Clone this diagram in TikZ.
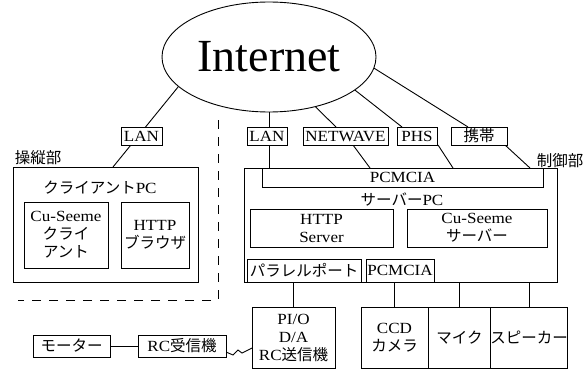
\documentclass[tikz,border=0pt]{standalone}
\usepackage{fontspec}
\setmainfont[FakeStretch=1.1]{Liberation Serif}
\newfontfamily\inetfont{Liberation Serif}
\newfontfamily\jp{Noto Sans CJK JP}
\usetikzlibrary{calc,backgrounds,shapes.geometric}
\begin{document}
\begin{tikzpicture}[x=1pt,y=-1pt,
  every node/.style={font=\fontsize{15.5}{18}\selectfont},
  box/.style={draw, fill=white, inner sep=0pt, outer sep=0pt, line width=0.9pt, align=center},
  wire/.style={line width=0.9pt}]
\useasboundingbox (0,0) rectangle (588,369);
% Internet
\node[draw, ellipse, fill=white, line width=0.9pt, minimum width=214pt, minimum height=110pt,
      inner sep=0pt, outer sep=0pt, font=\inetfont\fontsize{46}{50}\selectfont] (inet) at (269,57) {Internet};
% client side
\node[box, minimum width=41pt, minimum height=18pt] (lanL) at (141.5,136) {LAN};
\node[box, minimum width=185pt, minimum height=115pt] (client) at (105.5,224.5) {};
\node (clientlbl) at (100,188) {{\jp クライアント}PC};
\node[box, minimum width=84pt, minimum height=66pt] (cuc) at (66,235) {Cu-Seeme\\{\jp クライ}\\{\jp アント}};
\node[box, minimum width=68pt, minimum height=66pt] (httpb) at (155,235) {HTTP\\{\jp ブラウザ}};
\node (soju) at (38,158) {\jp 操縦部};
% server side
\node[box, minimum width=40pt, minimum height=18pt] (lanR) at (267,136) {LAN};
\node[box, minimum width=85pt, minimum height=18pt] (netwave) at (345.5,136) {NETWAVE};
\node[box, minimum width=40pt, minimum height=18pt] (phs) at (417,136) {PHS};
\node[box, minimum width=56pt, minimum height=18pt] (keitai) at (479,136) {\jp 携帯};
\node[box, minimum width=313pt, minimum height=114pt] (server) at (400.5,225) {};
\node[inner sep=0pt, outer sep=0pt, minimum width=281pt, minimum height=19pt] (pcmbar) at (402.5,177.5) {PCMCIA};
\draw[wire] (pcmbar.north west) -- (pcmbar.south west) -- (pcmbar.south east) -- (pcmbar.north east);
\node (serverlbl) at (402,200) {{\jp サーバー}PC};
\node[box, minimum width=143pt, minimum height=38pt] (https) at (321.5,228) {HTTP\\Server};
\node[box, minimum width=140pt, minimum height=38pt] (cus) at (477,228) {Cu-Seeme\\{\jp サーバー}};
\node[box, minimum width=114pt, minimum height=23pt] (para) at (304,270.5) {\jp パラレルポート};
\node[box, minimum width=68pt, minimum height=23pt] (pcm2) at (400,270.5) {PCMCIA};
\node (seigyo) at (560,161) {\jp 制御部};
% bottom devices
\node[box, minimum width=83pt, minimum height=61pt] (pio) at (293.5,337.5) {PI/O\\D/A\\RC{\jp 送信機}};
\node[box, minimum width=67pt, minimum height=61pt] (ccd) at (394.5,337.5) {CCD\\{\jp カメラ}};
\node[box, minimum width=63pt, minimum height=61pt] (mic) at (459.5,337.5) {\jp マイク};
\node[box, minimum width=76pt, minimum height=61pt] (spk) at (529,337.5) {\jp スピーカー};
\node[box, minimum width=77pt, minimum height=22pt] (motor) at (71.5,346) {\jp モーター};
\node[box, minimum width=88pt, minimum height=22pt] (rcr) at (182,346) {RC{\jp 受信機}};
% dashed separator
\coordinate (dtop) at (218,120);
\coordinate (dcorner) at (218,300);
\coordinate (dleft) at (18,300);
\draw[wire, dash pattern=on 9pt off 8pt] (dtop) -- (dcorner) -- (dleft);
% connectors
\begin{scope}[on background layer]
\draw[wire] (inet.198.4) -- ($(client.north west)+(100,0)$);
\draw[wire] (inet.south) -- (inet.south |- server.north);
\draw[wire] (inet.313.2) -- ($(netwave.north west)+(33,0)$);
\draw[wire] ($(netwave.south west)+(50,0)$) -- ($(server.north west)+(126,0)$);
\draw[wire] (inet.339.2) -- ($(phs.north west)+(5,0)$);
\draw[wire] ($(phs.south west)+(41,0)$) -- ($(server.north west)+(209,0)$);
\draw[wire] (inet.354.2) -- ($(keitai.north west)+(17,0)$);
\draw[wire] ($(keitai.south west)+(54,0)$) -- ($(server.north west)+(286,0)$);
\draw[wire] (pio.north) -- (pio.north |- para.south);
\draw[wire] (ccd.north) -- (ccd.north |- server.south);
\draw[wire] (mic.north) -- (mic.north |- server.south);
\draw[wire] (spk.north) -- (spk.north |- server.south);
\draw[wire] (motor.east) -- (rcr.west);
\draw[wire] ($(rcr.east)+(0,6)$) -- ++(7,3) -- ++(5,-5) -- ++(4,3) -- ($(pio.south west)+(0,-20)$);
\end{scope}
\end{tikzpicture}
\end{document}
